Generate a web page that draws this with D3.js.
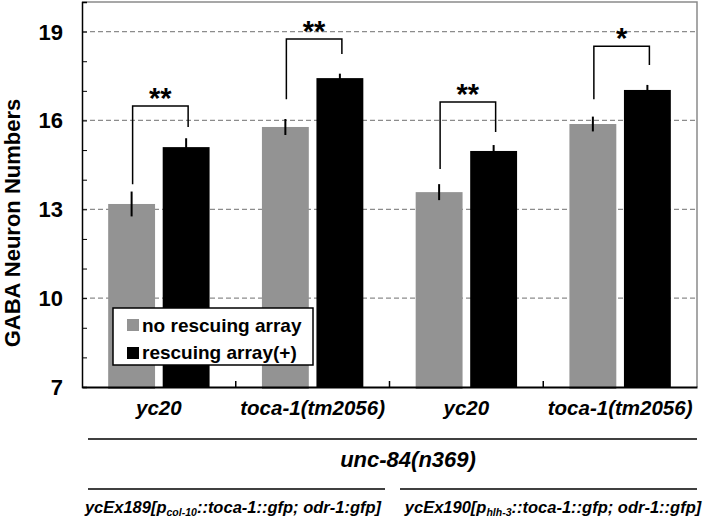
<!DOCTYPE html>
<html>
<head>
<meta charset="utf-8">
<script src="https://cdn.jsdelivr.net/npm/d3@7"></script>
<style>
  body { margin: 0; background: #fff; }
  svg { display: block; font-family: "Liberation Sans", Arial, sans-serif; }
</style>
</head>
<body>
<div class="chart"></div>
<script>
// data
const strains = ['yc20', 'toca-1(tm2056)', 'yc20', 'toca-1(tm2056)'];
const seriesNames = ['no rescuing array', 'rescuing array(+)'];
const noRescue = [13.18, 15.78, 13.58, 15.88];
const noRescueErr = [0.42, 0.27, 0.27, 0.25];
const rescue = [15.1, 17.43, 14.97, 17.03];
const rescueErr = [0.3, 0.15, 0.2, 0.17];
const sigLabels = ['**', '**', '**', '*'];
const bracketTop = [16.49, 18.75, 16.62, 18.51];
const bracketLeft = [13.85, 16.72, 14.36, 16.72];
const bracketRight = [15.78, 18.24, 15.61, 17.87];
const yTicks = [7, 10, 13, 16, 19];
const gridValues = [10, 13, 16, 19];

const W = 711, H = 524;
const plot = { left: 82, right: 697, top: 2, bottom: 387 };
const colors = ['#939393', '#000000'];

let svg = d3.select('.chart').append('svg').attr('width', W).attr('height', H);

let yScale = d3.scaleLinear().domain([7, 20]).range([plot.bottom, plot.top]);
let xGroup = d3.scaleBand().domain(d3.range(strains.length)).range([plot.left, plot.right]);
let xSeries = d3
  .scaleBand()
  .domain([0, 1])
  .range([0, xGroup.bandwidth()])
  .paddingInner(0.14)
  .paddingOuter(0.48);

// dashed grid
svg
  .selectAll('.grid')
  .data(gridValues)
  .enter()
  .append('line')
  .attr('x1', plot.left)
  .attr('x2', plot.right)
  .attr('y1', d => yScale(d))
  .attr('y2', d => yScale(d))
  .attr('stroke', '#8c8c8c')
  .attr('stroke-width', 1.2)
  .attr('stroke-dasharray', '5,3');

// frame top / right
svg.append('path')
  .attr('d', `M${plot.left},${plot.top}H${plot.right}V${plot.bottom}`)
  .attr('fill', 'none')
  .attr('stroke', '#8a8a8a')
  .attr('stroke-width', 1.5);

// bars
const rows = strains.map((s, i) => [
  { g: i, k: 0, v: noRescue[i], e: noRescueErr[i] },
  { g: i, k: 1, v: rescue[i], e: rescueErr[i] }
]).flat();

svg
  .selectAll('.bar')
  .data(rows)
  .enter()
  .append('rect')
  .attr('x', d => xGroup(d.g) + xSeries(d.k))
  .attr('width', xSeries.bandwidth())
  .attr('y', d => yScale(d.v))
  .attr('height', d => yScale(7) - yScale(d.v) + (d.k === 0 ? 2 : 0))
  .attr('fill', d => colors[d.k]);

// error bars
svg
  .selectAll('.err')
  .data(rows)
  .enter()
  .append('line')
  .attr('x1', d => xGroup(d.g) + xSeries(d.k) + xSeries.bandwidth() / 2)
  .attr('x2', d => xGroup(d.g) + xSeries(d.k) + xSeries.bandwidth() / 2)
  .attr('y1', d => yScale(d.v + d.e))
  .attr('y2', d => yScale(d.v - d.e))
  .attr('stroke', '#000')
  .attr('stroke-width', 2);

// significance brackets
const cx = (g, k) => xGroup(g) + xSeries(k) + xSeries.bandwidth() / 2;
strains.forEach((s, i) => {
  const x1 = cx(i, 0) + 1, x2 = cx(i, 1) + 2;
  svg.append('path')
    .attr('d', `M${x1},${yScale(bracketLeft[i])}V${yScale(bracketTop[i])}H${x2}V${yScale(bracketRight[i])}`)
    .attr('fill', 'none')
    .attr('stroke', '#000')
    .attr('stroke-width', 1.5);
  svg.append('text')
    .attr('x', (x1 + x2) / 2)
    .attr('y', yScale(bracketTop[i]) + 2)
    .attr('text-anchor', 'middle')
    .attr('font-size', 29)
    .attr('font-weight', 'bold')
    .text(sigLabels[i]);
});

// y axis
let yAxis = d3.axisLeft(yScale).tickValues(d3.range(7, 21)).tickSize(-5).tickFormat('');
svg.append('g')
  .attr('transform', `translate(${plot.left},0)`)
  .call(yAxis)
  .call(g => g.select('.domain').attr('stroke-width', 1.5))
  .call(g => g.selectAll('.tick line').attr('stroke-width', 1));

svg.selectAll('.ylab')
  .data(yTicks)
  .enter()
  .append('text')
  .attr('x', 63)
  .attr('y', d => yScale(d))
  .attr('dy', '0.36em')
  .attr('text-anchor', 'end')
  .attr('font-size', 22)
  .attr('font-weight', 'bold')
  .text(d => d);

svg.append('text')
  .attr('transform', 'translate(20,223) rotate(-90)')
  .attr('text-anchor', 'middle')
  .attr('font-size', 22)
  .attr('font-weight', 'bold')
  .text('GABA Neuron Numbers');

// x axis
let xAxis = d3.axisBottom(xGroup).tickValues([]).tickSizeOuter(0);
svg.append('g')
  .attr('transform', `translate(0,${plot.bottom})`)
  .call(xAxis)
  .call(g => g.select('.domain').attr('stroke-width', 2));

svg.selectAll('.xtick')
  .data(d3.range(1, strains.length))
  .enter()
  .append('line')
  .attr('x1', d => xGroup(d))
  .attr('x2', d => xGroup(d))
  .attr('y1', plot.bottom)
  .attr('y2', plot.bottom - 6)
  .attr('stroke', '#000')
  .attr('stroke-width', 1.5);

svg.selectAll('.xlab')
  .data(strains)
  .enter()
  .append('text')
  .attr('x', (d, i) => xGroup(i) + xGroup.bandwidth() / 2)
  .attr('y', 415)
  .attr('text-anchor', 'middle')
  .attr('font-size', 20.5)
  .attr('font-weight', 'bold')
  .attr('font-style', 'italic')
  .text(d => d);

// lower annotation
svg.append('line').attr('x1', 88).attr('x2', 697).attr('y1', 439).attr('y2', 439)
  .attr('stroke', '#000').attr('stroke-width', 1.5);
svg.append('text')
  .attr('x', 408).attr('y', 467)
  .attr('text-anchor', 'middle')
  .attr('font-size', 22).attr('font-weight', 'bold').attr('font-style', 'italic')
  .text('unc-84(n369)');

svg.append('line').attr('x1', 88).attr('x2', 385).attr('y1', 489).attr('y2', 489)
  .attr('stroke', '#000').attr('stroke-width', 1.5);
svg.append('line').attr('x1', 400).attr('x2', 697).attr('y1', 489).attr('y2', 489)
  .attr('stroke', '#000').attr('stroke-width', 1.5);

const arrays = [
  { x: 233, pre: 'ycEx189[p', sub: 'col-10', post: '::toca-1::gfp; odr-1:gfp]' },
  { x: 553, pre: 'ycEx190[p', sub: 'hlh-3', post: '::toca-1::gfp; odr-1::gfp]' }
];
arrays.forEach(a => {
  let t = svg.append('text')
    .attr('x', a.x).attr('y', 513)
    .attr('text-anchor', 'middle')
    .attr('font-size', 16.5).attr('font-weight', 'bold').attr('font-style', 'italic');
  t.append('tspan').text(a.pre);
  t.append('tspan').attr('font-size', 10.5).attr('dy', 3).text(a.sub);
  t.append('tspan').attr('dy', -3).text(a.post);
});

// legend
let legend = svg.append('g');
legend.append('rect')
  .attr('x', 113).attr('y', 308).attr('width', 200).attr('height', 57)
  .attr('fill', '#fff').attr('stroke', '#000').attr('stroke-width', 1.5);
seriesNames.forEach((name, i) => {
  legend.append('rect')
    .attr('x', 127).attr('y', 319 + i * 28).attr('width', 12).attr('height', 12)
    .attr('fill', colors[i]);
  legend.append('text')
    .attr('x', 142).attr('y', 332 + i * 27)
    .attr('font-size', 19).attr('font-weight', 'bold')
    .text(name);
});
</script>
</body>
</html>
